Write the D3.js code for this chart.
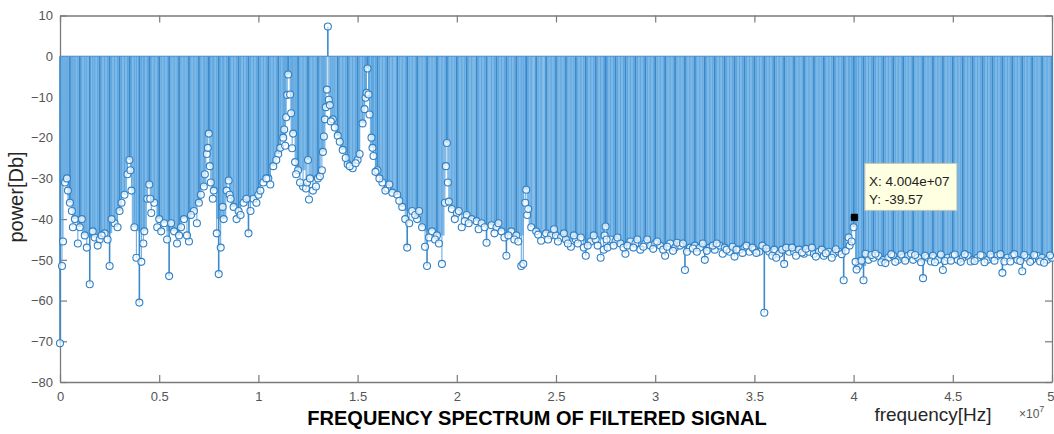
<!DOCTYPE html>
<html><head><meta charset="utf-8">
<script src="https://cdn.jsdelivr.net/npm/d3@7"></script>
<style>html,body{margin:0;padding:0;background:#fff;overflow:hidden}</style>
</head><body>
<svg id="chart" width="1054" height="434"></svg>
<script>
// ---- data (frequency in MHz, power in dB) ----
const gridFreqMHz = [
0,0.25,0.5,0.75,1,1.25,1.5,1.75,2,2.25,2.5,2.75,3,3.25,3.5,3.75,4,4.25,4.5,4.75,
5,5.25,5.5,5.75,6,6.25,6.5,6.75,7,7.25,7.5,7.75,8,8.25,8.5,8.75,9,9.25,9.5,9.75,
10,10.25,10.5,10.75,11,11.25,11.5,11.75,12,12.25,12.5,12.75,13,13.25,13.5,13.75,14,14.25,14.5,14.75,
15,15.25,15.5,15.75,16,16.25,16.5,16.75,17,17.25,17.5,17.75,18,18.25,18.5,18.75,19,19.25,19.5,19.75,
20,20.25,20.5,20.75,21,21.25,21.5,21.75,22,22.25,22.5,22.75,23,23.25,23.5,23.75,24,24.25,24.5,24.75,
25,25.25,25.5,25.75,26,26.25,26.5,26.75,27,27.25,27.5,27.75,28,28.25,28.5,28.75,29,29.25,29.5,29.75,
30,30.25,30.5,30.75,31,31.25,31.5,31.75,32,32.25,32.5,32.75,33,33.25,33.5,33.75,34,34.25,34.5,34.75,
35,35.25,35.5,35.75,36,36.25,36.5,36.75,37,37.25,37.5,37.75,38,38.25,38.5,38.75,39,39.25,39.5,39.75,
40,40.25,40.5,40.75,41,41.25,41.5,41.75,42,42.25,42.5,42.75,43,43.25,43.5,43.75,44,44.25,44.5,44.75,
45,45.25,45.5,45.75,46,46.25,46.5,46.75,47,47.25,47.5,47.75,48,48.25,48.5,48.75,49,49.25,49.5,49.75,
50];
const gridPowerDb = [
-70.5,-31,-36,-40,-42,-44,-56,-44.5,-45,-43.5,-51.5,-41,-38,-34,-25.5,-42,-60.5,-43,-31.5,-36,
-40,-41,-54,-43,-44,-40,-45.5,-38,-36,-32,-19,-33,-53.5,-40,-30.5,-37,-38,-36,-43.5,-35,
-34,-31,-30,-27,-24,-20,-4.5,-19,-28,-32,-25.5,-33,-30,-23.5,7.3,-15.5,-19.5,-23,-26.5,-27.5,
-25.5,-16.5,-3,-22.5,-28,-31,-32.5,-33.5,-34,-37,-47,-38,-40,-42,-51.5,-43,-44,-51,-21.3,-37.5,
-38.5,-42,-39,-40,-40.5,-41,-45.8,-41.5,-42,-43,-49,-43,-44,-51.5,-32.8,-42,-43,-45.3,-43.5,-44,
-44,-44.5,-45,-46.8,-45,-44.5,-49,-45.5,-45,-49.5,-41.8,-45,-45.5,-46,-48.5,-45.5,-46,-47.5,-46,-46.5,
-46,-46.5,-49,-46,-47,-46.5,-52.5,-47,-46.5,-47,-50,-47,-47.5,-46.5,-47,-48,-49.2,-47.5,-47,-48,
-47.5,-48,-63,-48,-47.5,-48.5,-51,-48,-48,-47.5,-48.5,-48,-48.5,-48,-49,-48,-48.5,-48,-55,-44.5,
-42,-51.5,-55,-50,-49.5,-49,-50,-49.5,-49,-50,-49.5,-49,-50,-49.5,-54.5,-49.5,-49,-50,-52.5,-49.5,
-49,-50,-49.5,-49,-50,-49.5,-49,-50,-49.5,-49,-53.2,-49.5,-49,-50,-52.8,-49.5,-50,-49,-49.5,-50,
-49.5];
const extraFreqMHz = [
0.1,0.15,0.35,0.4,0.6,0.65,0.9,1.1,1.35,1.65,1.9,2.1,2.4,2.6,2.9,3.1,3.4,3.55,3.6,3.85,4.1,4.2,4.4,4.55,4.6,4.9,
5.1,5.4,5.6,5.9,6.1,6.4,6.6,6.9,7.1,7.3,7.4,7.45,7.55,7.6,7.7,7.9,8.1,8.2,8.4,8.55,8.6,8.9,9.1,9.4,9.6,9.9,
10.1,10.4,10.6,10.9,11.1,11.3,11.35,11.4,11.45,11.6,11.65,11.7,11.85,11.9,12.1,12.4,12.45,12.55,12.6,12.9,
13.1,13.2,13.3,13.35,13.4,13.45,13.55,13.6,13.65,13.85,14.1,14.4,14.6,14.9,
15.1,15.35,15.4,15.45,15.55,15.6,15.7,15.8,15.9,16.1,16.4,16.6,17.1,17.4,17.6,17.9,18.1,18.4,18.6,18.9,19.1,19.4,19.45,19.55,19.6,19.9,
20.1,20.4,20.6,21.1,21.4,21.9,22.1,22.4,22.6,22.9,23.1,23.35,23.45,23.55,23.6,24.1,24.6,24.9,
25.1,25.4,25.6,25.9,26.1,26.4,26.6,26.9,27.1,27.4,27.45,27.55,27.6,27.9,28.1,28.4,28.6,28.9,29.1,29.4,29.6,29.9,
30.1,30.4,30.6,30.9,31.1,31.4,31.6,31.9,32.1,32.4,32.6,32.9,33.1,33.4,33.6,33.9,34.1,34.4,34.6,34.9,
35.1,35.4,35.6,35.9,36.1,36.4,36.6,36.9,37.1,37.4,37.6,37.9,38.1,38.4,38.6,38.9,39.1,39.4,39.6,39.8,39.9,40.04,
40.1,40.15,40.4,40.6,40.9,41.1,41.4,41.6,41.9,42.1,42.4,42.6,42.9,43.1,43.4,43.6,43.9,44.1,44.4,44.6,44.9,
45.1,45.4,45.6,45.9,46.1,46.4,46.6,46.9,47.1,47.4,47.6,47.9,48.1,48.4,48.6,48.9,49.1,49.4,49.6,49.9];
const extraPowerDb = [
-51.5,-45.5,-30,-33,-38,-42,-46,-40,-47,-43,-46.5,-44,-45,-40,-42,-36,-29,-28,-33,-49.5,-50.5,-46,-35,-35,-38.5,-42,
-43,-45,-41,-46,-42,-44,-39,-41,-34,-29,-24,-22.5,-27,-31,-35,-43.5,-47,-37,-33,-34,-35,-40,-39,-35,-38,-36,
-33,-30,-31.5,-25.5,-22.5,-18,-22,-15,-9.5,-9.4,-14,-22.6,-26,-29,-31,-32.5,-31,-35.2,-30,-32,
-29.5,-28,-19.7,-15.5,-12.5,-8.2,-10.7,-12,-16,-17.5,-21,-25,-27,-26.3,
-24,-13,-10.2,-9,-9.4,-14.3,-20,-24.5,-28.4,-30,-33,-31.5,-35.5,-40,-41,-39,-38,-46.8,-44.5,-45,-46,-36,-27,-31,-35.7,-40,
-38,-40.5,-41,-42.5,-42,-43.5,-41,-44.5,-44,-45,-45.5,-51,-36,-39,-37.5,-43.8,-45,-42.5,
-45.5,-43.5,-46,-44,-46,-47,-46.5,-44,-46.5,-47.5,-44,-45,-47,-46.5,-44.5,-47,-46.5,-47,-45,-46.8,-45,-47.3,
-45.5,-47.5,-46.8,-47.8,-45.8,-46,-48,-47.2,-48,-46,-47.8,-46.5,-46,-48.5,-47.5,-46.8,-47.5,-48.3,-46.5,-47,
-48.3,-46.5,-47.2,-49,-49.5,-47.5,-47,-47,-49,-48.2,-47.3,-47,-49.2,-47.5,-48.4,-49.5,-47.4,-48.6,-47.8,-46.5,-45.5,-39.57,
-50.5,-52.4,-50.2,-48.5,-48.8,-48.5,-50.6,-50.8,-48.6,-50.5,-48.7,-50.2,-48.5,-48.8,-50.6,-49,-50.4,-50.6,-48.7,-50.3,-50.2,
-48.7,-50.5,-48.6,-50.4,-50.3,-48.8,-50.6,-48.7,-50.2,-48.6,-50.4,-50.4,-48.6,-50.3,-48.8,-50.5,-48.8,-50.4,-50.7,-48.9];
const xTickValues = [0,5,10,15,20,25,30,35,40,45,50];
const xTickLabels = ["0","0.5","1","1.5","2","2.5","3","3.5","4","4.5","5"];
const yTickValues = [-80,-70,-60,-50,-40,-30,-20,-10,0,10];
const datatipFreqMHz = 40.04;
const datatipPowerDb = -39.57;

// ---- drawing ----
const svg = d3.select("#chart");
const FONT = "'Liberation Sans', Arial, Helvetica, sans-serif";
const L = 60, R = 1052, T = 15.5, B = 382;
const x = d3.scaleLinear().domain([0, 50]).range([L, R]);
const y = d3.scaleLinear().domain([-80, 10]).range([B, T]);

svg.append("defs").append("clipPath").attr("id", "plotClip")
  .append("rect").attr("x", L + 0.5).attr("y", T).attr("width", R - L - 0.5).attr("height", B - T);

// axes (box with inward ticks)
const axisColor = "#7a7a7a";
function styleAxis(g) {
  g.selectAll(".domain").attr("stroke", axisColor).attr("stroke-width", 1.3);
  g.selectAll(".tick line").attr("stroke", axisColor).attr("stroke-width", 1.2);
  g.selectAll("text").attr("fill", "#555").style("font-family", FONT).style("font-size", "13px");
}
const gx = svg.append("g").attr("transform", `translate(0,${B})`)
  .call(d3.axisBottom(x).tickValues(xTickValues).tickFormat((d, i) => xTickLabels[i])
    .tickSizeInner(-7).tickSizeOuter(0).tickPadding(10)).call(styleAxis);
// keep the last tick label inside the picture
gx.selectAll(".tick text").filter(d => d === xTickValues[xTickValues.length - 1])
  .attr("text-anchor", "end").attr("x", 2);
svg.append("g").attr("transform", `translate(0,${T})`)
  .call(d3.axisTop(x).tickValues(xTickValues).tickFormat("").tickSizeInner(-7).tickSizeOuter(0)).call(styleAxis);
svg.append("g").attr("transform", `translate(${L},0)`)
  .call(d3.axisLeft(y).tickValues(yTickValues).tickSizeInner(-7).tickSizeOuter(0).tickPadding(7)).call(styleAxis);
svg.append("g").attr("transform", `translate(${R},0)`)
  .call(d3.axisRight(y).tickValues(yTickValues).tickFormat("").tickSizeInner(-7).tickSizeOuter(0)).call(styleAxis);

// dense stem "fill" (grid stems drawn wide)
const n = gridPowerDb.length;
const grid = gridFreqMHz.map((f, i) => {
  const v = gridPowerDb[i];
  const l = i > 0 ? gridPowerDb[i - 1] : gridPowerDb[i + 1];
  const r = i < n - 1 ? gridPowerDb[i + 1] : gridPowerDb[i - 1];
  return { f, v, i, fillTo: Math.min(0, Math.max(v, Math.min(l, r))) };
});
const extras = extraFreqMHz.map((f, i) => ({ f, v: extraPowerDb[i] }));
const stepPx = x(gridFreqMHz[1]) - x(gridFreqMHz[0]);

const plot = svg.append("g");
plot.append("g").attr("clip-path", "url(#plotClip)")
  .selectAll("line").data(grid).join("line")
  .attr("x1", d => x(d.f)).attr("x2", d => x(d.f))
  .attr("y1", y(0)).attr("y2", d => y(d.fillTo))
  .attr("stroke", "#7fb9e7").attr("stroke-width", stepPx + 0.3);

// thin stems
plot.append("g").selectAll("line").data(extras.concat(grid.filter(d => d.i % 2 === 1))).join("line")
  .attr("x1", d => x(d.f)).attr("x2", d => x(d.f))
  .attr("y1", y(0)).attr("y2", d => y(d.v))
  .attr("stroke", "#5ea6de").attr("stroke-width", 1);
plot.append("g").selectAll("line").data(grid.filter(d => d.i % 2 === 0)).join("line")
  .attr("x1", d => x(d.f)).attr("x2", d => x(d.f))
  .attr("y1", y(0)).attr("y2", d => y(d.v))
  .attr("stroke", "#3a89cb").attr("stroke-width", 1.6);

// baseline at 0
plot.append("line").attr("x1", L).attr("x2", R).attr("y1", y(0)).attr("y2", y(0))
  .attr("stroke", "#4a8ccc").attr("stroke-width", 1);

// markers
plot.append("g").selectAll("circle").data(grid.concat(extras)).join("circle")
  .attr("cx", d => x(d.f)).attr("cy", d => y(d.v)).attr("r", 3.5)
  .attr("fill", "#fff").attr("fill-opacity", 0.7)
  .attr("stroke", "#2f80c6").attr("stroke-width", 1.1);

// datatip
const px = x(datatipFreqMHz), py = y(datatipPowerDb);
svg.append("rect").attr("x", px - 3.5).attr("y", py - 3.5).attr("width", 7).attr("height", 7).attr("fill", "#000");
const bx = px + 10.5, by = py - 54;
svg.append("rect").attr("x", bx).attr("y", by).attr("width", 92).attr("height", 47)
  .attr("fill", "#ffffe1").attr("stroke", "#c4c4b8").attr("stroke-width", 1);
const fmtX = v => d3.format(".3e")(v * 1e6).replace(/e([+-])(\d)$/, "e$10$2");
const tip = svg.append("text").attr("fill", "#222").style("font-family", FONT).style("font-size", "13.5px");
tip.append("tspan").attr("x", bx + 4).attr("y", by + 23).text("X: " + fmtX(datatipFreqMHz));
tip.append("tspan").attr("x", bx + 4).attr("y", by + 41).text("Y: " + d3.format(".2f")(datatipPowerDb).replace("\u2212", "-"));

// labels
svg.append("text").attr("x", 537).attr("y", 425).attr("text-anchor", "middle")
  .style("font-family", FONT).style("font-size", "20px").style("font-weight", "bold").attr("fill", "#000")
  .text("FREQUENCY SPECTRUM OF FILTERED SIGNAL");
svg.append("text").attr("x", 933).attr("y", 421).attr("text-anchor", "middle")
  .style("font-family", FONT).style("font-size", "19px").attr("fill", "#262626")
  .text("frequency[Hz]");
const ex = svg.append("text").attr("x", 1019).attr("y", 418)
  .style("font-family", FONT).style("font-size", "12px").attr("fill", "#555");
ex.append("tspan").text("\u00d710");
ex.append("tspan").attr("dy", -6).style("font-size", "9px").text("7");
svg.append("text").attr("transform", "translate(23,197) rotate(-90)").attr("text-anchor", "middle")
  .style("font-family", FONT).style("font-size", "20px").attr("fill", "#262626")
  .text("power[Db]");
</script>
</body></html>
